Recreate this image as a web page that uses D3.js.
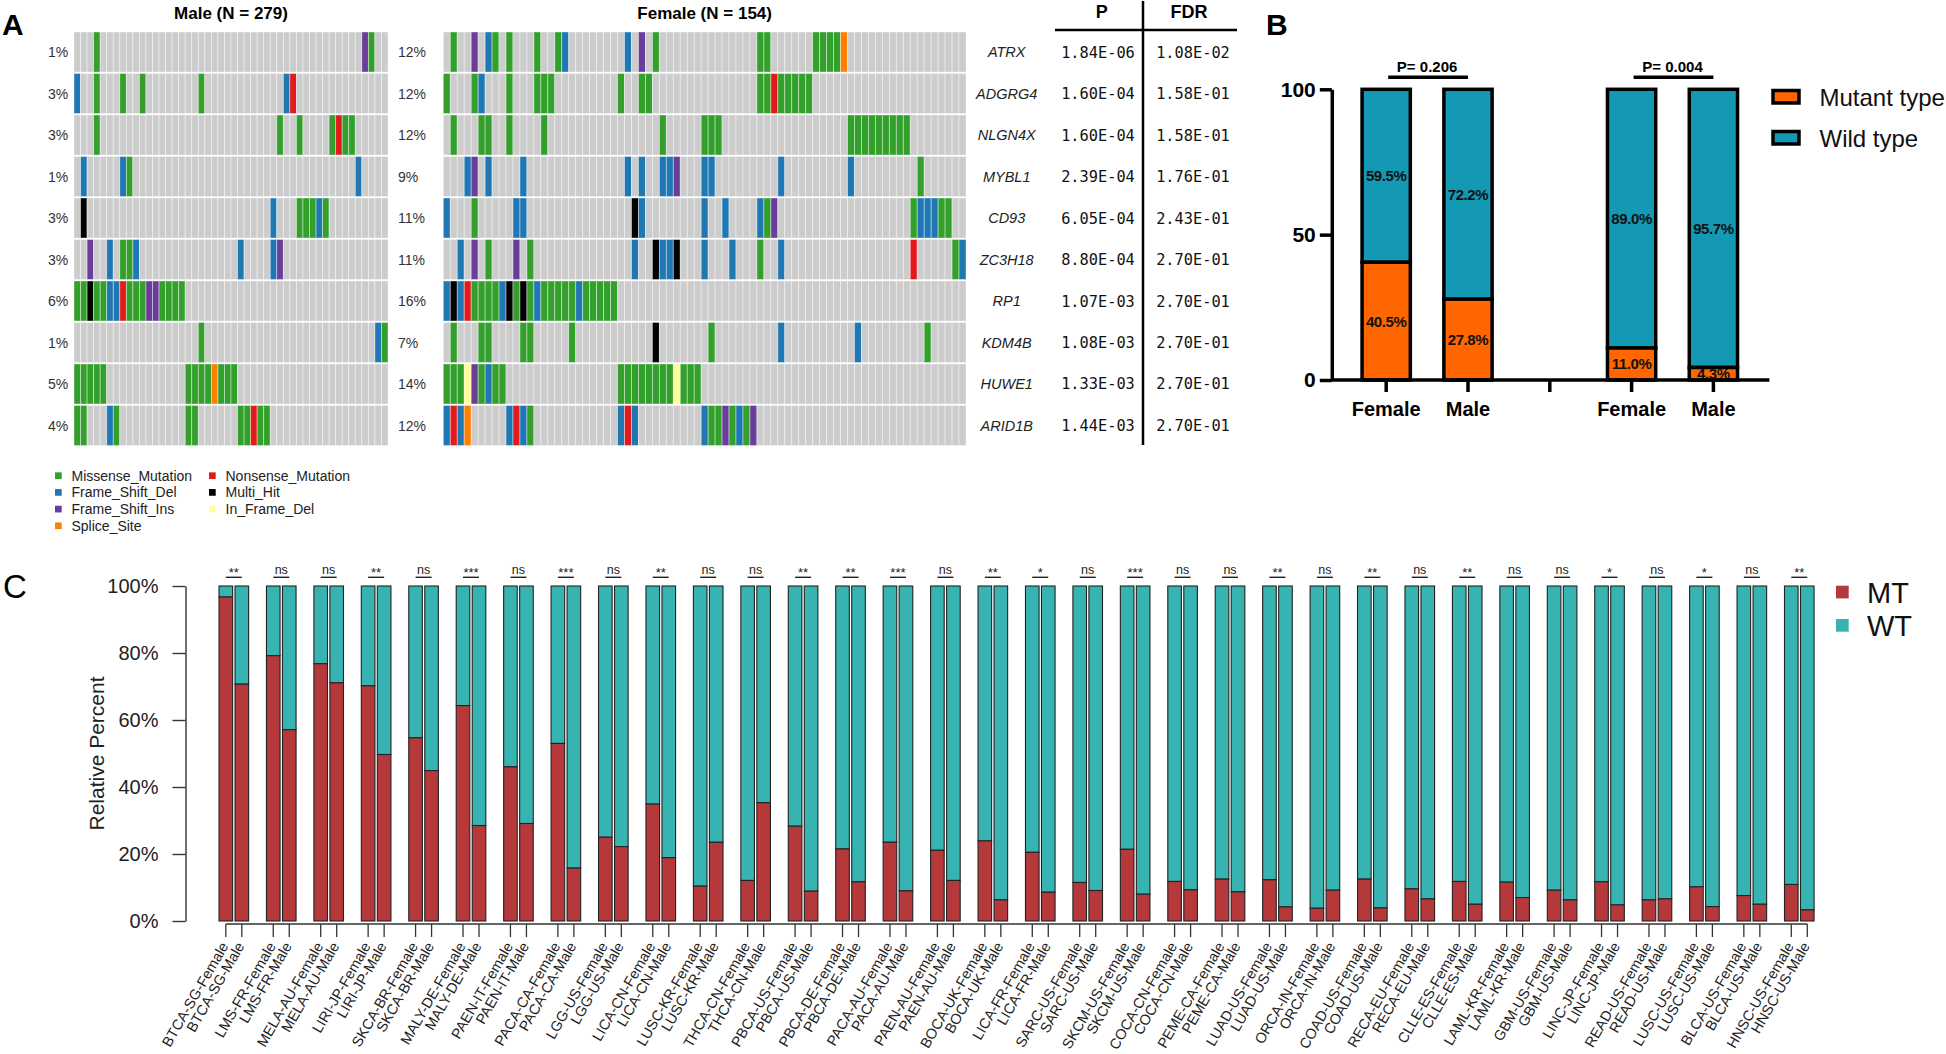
<!DOCTYPE html>
<html><head><meta charset="utf-8">
<script src="https://cdn.jsdelivr.net/npm/d3@7"></script>
<style>
body{margin:0;background:#fff}
svg{display:block}
</style>
</head><body>
<svg id="fig" width="1946" height="1054" font-family="'Liberation Sans',Arial,Helvetica,sans-serif"></svg>
<script>
// ---------------- DATA ----------------
// Panel A: oncoprint
const genes = ["ATRX","ADGRG4","NLGN4X","MYBL1","CD93","ZC3H18","RP1","KDM4B","HUWE1","ARID1B"];
const malePct = ["1%","3%","3%","1%","3%","3%","6%","1%","5%","4%"];
const femalePct = ["12%","12%","12%","9%","11%","11%","16%","7%","14%","12%"];
const pValues = ["1.84E-06","1.60E-04","1.60E-04","2.39E-04","6.05E-04","8.80E-04","1.07E-03","1.08E-03","1.33E-03","1.44E-03"];
const fdrValues = ["1.08E-02","1.58E-01","1.58E-01","1.76E-01","2.43E-01","2.70E-01","2.70E-01","2.70E-01","2.70E-01","2.70E-01"];
const maleTitle = "Male (N = 279)";
const femaleTitle = "Female (N = 154)";
const maleColumns = 48;
const femaleColumns = 75;
// mutation codes: M Missense, D Frame_Shift_Del, I Frame_Shift_Ins, S Splice_Site, N Nonsense, H Multi_Hit, F In_Frame_Del
const maleMutations = [
  [[3,"M"],[44,"I"],[45,"M"]],
  [[0,"D"],[3,"M"],[7,"M"],[10,"M"],[19,"M"],[32,"D"],[33,"N"]],
  [[3,"M"],[31,"M"],[34,"M"],[39,"M"],[40,"N"],[41,"M"],[42,"M"]],
  [[1,"D"],[7,"D"],[8,"M"],[43,"D"]],
  [[1,"H"],[30,"D"],[34,"M"],[35,"M"],[36,"M"],[37,"D"],[38,"M"]],
  [[2,"I"],[5,"D"],[7,"M"],[8,"M"],[9,"D"],[25,"D"],[30,"D"],[31,"I"]],
  [[0,"M"],[1,"M"],[2,"H"],[3,"M"],[4,"M"],[5,"D"],[6,"D"],[7,"N"],[8,"M"],[9,"M"],[10,"M"],[11,"I"],[12,"I"],[13,"M"],[14,"M"],[15,"M"],[16,"M"]],
  [[19,"M"],[46,"D"],[47,"M"]],
  [[0,"M"],[1,"M"],[2,"M"],[3,"M"],[4,"M"],[17,"M"],[18,"M"],[19,"M"],[20,"M"],[21,"S"],[22,"M"],[23,"M"],[24,"M"]],
  [[0,"M"],[1,"M"],[5,"D"],[6,"M"],[17,"M"],[18,"M"],[25,"M"],[26,"M"],[27,"N"],[28,"M"],[29,"M"]]
];
const femaleMutations = [
  [[1,"M"],[4,"I"],[6,"D"],[7,"M"],[9,"M"],[13,"M"],[16,"M"],[17,"D"],[26,"D"],[28,"I"],[30,"M"],[45,"M"],[46,"M"],[53,"M"],[54,"M"],[55,"M"],[56,"M"],[57,"S"]],
  [[0,"M"],[4,"M"],[5,"D"],[9,"M"],[13,"M"],[14,"M"],[15,"M"],[25,"M"],[28,"M"],[29,"M"],[45,"M"],[46,"M"],[47,"N"],[48,"M"],[49,"M"],[50,"M"],[51,"M"],[52,"M"]],
  [[1,"M"],[5,"M"],[6,"M"],[9,"M"],[14,"M"],[31,"M"],[37,"M"],[38,"M"],[39,"M"],[58,"M"],[59,"M"],[60,"M"],[61,"M"],[62,"M"],[63,"M"],[64,"M"],[65,"M"],[66,"M"]],
  [[3,"D"],[4,"I"],[6,"D"],[11,"D"],[26,"D"],[28,"D"],[31,"D"],[32,"D"],[33,"I"],[37,"D"],[38,"D"],[48,"D"],[58,"D"],[68,"M"]],
  [[0,"D"],[4,"M"],[10,"D"],[11,"D"],[27,"H"],[28,"D"],[37,"D"],[40,"D"],[45,"D"],[46,"M"],[47,"I"],[67,"M"],[68,"D"],[69,"D"],[70,"D"],[71,"M"],[72,"M"]],
  [[2,"D"],[4,"I"],[6,"M"],[10,"I"],[12,"M"],[27,"D"],[30,"H"],[31,"D"],[32,"D"],[33,"H"],[37,"D"],[41,"D"],[45,"M"],[48,"D"],[67,"N"],[73,"M"],[74,"D"]],
  [[0,"D"],[1,"H"],[2,"D"],[3,"N"],[4,"M"],[5,"M"],[6,"M"],[7,"M"],[8,"D"],[9,"H"],[10,"M"],[11,"H"],[12,"M"],[13,"D"],[14,"M"],[15,"M"],[16,"M"],[17,"M"],[18,"M"],[19,"D"],[20,"M"],[21,"M"],[22,"M"],[23,"M"],[24,"M"]],
  [[1,"M"],[5,"M"],[6,"M"],[11,"M"],[12,"M"],[18,"M"],[30,"H"],[38,"M"],[48,"D"],[59,"D"],[69,"M"]],
  [[0,"M"],[1,"M"],[2,"M"],[3,"F"],[4,"I"],[5,"M"],[6,"D"],[7,"M"],[8,"M"],[25,"M"],[26,"M"],[27,"M"],[28,"M"],[29,"M"],[30,"M"],[31,"M"],[32,"M"],[33,"F"],[34,"M"],[35,"M"],[36,"M"]],
  [[0,"D"],[1,"N"],[2,"D"],[3,"S"],[9,"D"],[10,"N"],[11,"D"],[12,"M"],[25,"D"],[26,"N"],[27,"D"],[37,"D"],[38,"M"],[39,"M"],[40,"I"],[41,"M"],[42,"D"],[43,"M"],[44,"I"]]
];
const mutCodes = ["M","D","I","S","N","H","F"];
const mutNames = ["Missense_Mutation","Frame_Shift_Del","Frame_Shift_Ins","Splice_Site","Nonsense_Mutation","Multi_Hit","In_Frame_Del"];
const mutColors = ["#33A02C","#1F78B4","#6A3D9A","#FF7F00","#E31A1C","#000000","#FFFF99"];

// Panel B
const bKeys = ["g1F","g1M","gap","g2F","g2M"];
const bLabels = ["Female","Male","","Female","Male"];
const bMutant = [40.5, 27.8, null, 11.0, 4.3];
const bWild = [59.5, 72.2, null, 89.0, 95.7];
const bPLabels = ["P= 0.206","P= 0.004"];
const bLegend = ["Mutant type","Wild type"];

// Panel C
const cohorts = ["BTCA-SG","LMS-FR","MELA-AU","LIRI-JP","SKCA-BR","MALY-DE","PAEN-IT","PACA-CA","LGG-US","LICA-CN","LUSC-KR","THCA-CN","PBCA-US","PBCA-DE","PACA-AU","PAEN-AU","BOCA-UK","LICA-FR","SARC-US","SKCM-US","COCA-CN","PEME-CA","LUAD-US","ORCA-IN","COAD-US","RECA-EU","CLLE-ES","LAML-KR","GBM-US","LINC-JP","READ-US","LUSC-US","BLCA-US","HNSC-US"];
const mtFemale = [96.7,79.2,76.8,70.2,54.7,64.3,46.0,53.0,25.0,34.9,10.4,12.1,28.3,21.5,23.5,21.1,23.9,20.5,11.5,21.4,11.8,12.5,12.3,3.8,12.5,9.6,11.8,11.6,9.2,11.7,6.3,10.2,7.6,10.9];
const mtMale = [70.7,57.1,71.1,49.7,44.9,28.5,29.1,15.8,22.2,18.9,23.5,35.3,8.9,11.7,9.0,12.1,6.3,8.6,9.1,8.0,9.3,8.7,4.2,9.2,3.9,6.6,5.0,7.0,6.3,4.8,6.6,4.3,5.0,3.3];
const signif = ["**","ns","ns","**","ns","***","ns","***","ns","**","ns","ns","**","**","***","ns","**","*","ns","***","ns","ns","**","ns","**","ns","**","ns","ns","*","ns","*","ns","**"];
const sexes = ["Female","Male"];
const cTicks = [0,20,40,60,80,100];
const cLegend = ["MT","WT"];

// ---------------- DRAW ----------------
const SANS = "'Liberation Sans',Arial,Helvetica,sans-serif";
const MONO = "'DejaVu Sans Mono','Liberation Mono',monospace";
const svg = d3.select("#fig");
svg.append("rect").attr("width",1946).attr("height",1054).attr("fill","#fff");

// panel letters
svg.append("text").attr("x",2).attr("y",35).attr("font-size",30).attr("font-weight","bold").text("A");
svg.append("text").attr("x",1266).attr("y",35).attr("font-size",30).attr("font-weight","bold").text("B");
svg.append("text").attr("x",3).attr("y",598).attr("font-size",33).text("C");

// ===== Panel A =====
const typeColor = new Map(mutCodes.map((c,i)=>[c, mutColors[i]]));
const yA = d3.scaleBand().domain(genes).range([32, 445.5]).paddingInner(0.035);
const xMale = d3.scaleBand().domain(d3.range(maleColumns)).range([74, 388]);
const xFemale = d3.scaleBand().domain(d3.range(femaleColumns)).range([443.3, 966]);

function drawOnco(xs, muts) {
  const g = svg.append("g");
  genes.forEach((gene, r) => {
    const lookup = new Map(muts[r]);
    g.selectAll(null).data(xs.domain()).join("rect")
      .attr("x", c => xs(c)).attr("y", yA(gene))
      .attr("width", xs.bandwidth()).attr("height", yA.bandwidth())
      .attr("fill", c => lookup.has(c) ? typeColor.get(lookup.get(c)) : "#CCCCCC")
      .attr("stroke", "#ffffff").attr("stroke-width", 0.8).attr("stroke-opacity", 0.5);
  });
}
drawOnco(xMale, maleMutations);
drawOnco(xFemale, femaleMutations);

svg.append("text").attr("x", (xMale.range()[0]+xMale.range()[1])/2).attr("y",18.5)
  .attr("text-anchor","middle").attr("font-size",17).attr("font-weight","bold").text(maleTitle);
svg.append("text").attr("x", (xFemale.range()[0]+xFemale.range()[1])/2).attr("y",18.5)
  .attr("text-anchor","middle").attr("font-size",17).attr("font-weight","bold").text(femaleTitle);

svg.append("g").selectAll("text").data(genes).join("text")
  .attr("x", 48).attr("y", d => yA(d)+yA.bandwidth()/2).attr("dy","0.36em")
  .attr("font-size",14).attr("fill","#333").text((d,i)=>malePct[i]);
svg.append("g").selectAll("text").data(genes).join("text")
  .attr("x", 398).attr("y", d => yA(d)+yA.bandwidth()/2).attr("dy","0.36em")
  .attr("font-size",14).attr("fill","#333").text((d,i)=>femalePct[i]);

// gene names and table
svg.append("g").selectAll("text").data(genes).join("text")
  .attr("x", 1006.7).attr("y", d => yA(d)+yA.bandwidth()/2).attr("dy","0.36em")
  .attr("text-anchor","middle").attr("font-size",14.5).attr("font-style","italic").attr("fill","#222").text(d=>d);
svg.append("g").selectAll("text").data(genes).join("text")
  .attr("x", 1098).attr("y", d => yA(d)+yA.bandwidth()/2).attr("dy","0.36em")
  .attr("text-anchor","middle").attr("font-size",15.3).attr("font-family",MONO).attr("fill","#111").text((d,i)=>pValues[i]);
svg.append("g").selectAll("text").data(genes).join("text")
  .attr("x", 1193).attr("y", d => yA(d)+yA.bandwidth()/2).attr("dy","0.36em")
  .attr("text-anchor","middle").attr("font-size",15.3).attr("font-family",MONO).attr("fill","#111").text((d,i)=>fdrValues[i]);
svg.append("text").attr("x",1101.7).attr("y",18).attr("text-anchor","middle").attr("font-size",18).attr("font-weight","bold").text("P");
svg.append("text").attr("x",1189).attr("y",18).attr("text-anchor","middle").attr("font-size",18).attr("font-weight","bold").text("FDR");
svg.append("line").attr("x1",1055).attr("x2",1237).attr("y1",30).attr("y2",30).attr("stroke","#000").attr("stroke-width",2.5);
svg.append("line").attr("x1",1143).attr("x2",1143).attr("y1",1).attr("y2",445).attr("stroke","#000").attr("stroke-width",2.5);

// legend A
const legA = svg.append("g");
mutNames.forEach((name,i) => {
  const col = i < 4 ? 0 : 1, row = i < 4 ? i : i-4;
  const x0 = col === 0 ? 55 : 209;
  const yc = 475.7 + row*16.7;
  legA.append("rect").attr("x",x0).attr("y",yc-3.35).attr("width",6.7).attr("height",6.7).attr("fill",mutColors[i]);
  legA.append("text").attr("x",x0+16.5).attr("y",yc).attr("dy","0.36em").attr("font-size",14).attr("fill","#222").text(name);
});

// ===== Panel B =====
const orange = "#FF6600", teal = "#1399B3";
const yB = d3.scaleLinear().domain([0,100]).range([380, 89.3]);
const xB = d3.scaleBand().domain(bKeys).range([1345.3, 1754.3]).paddingInner(0.41).paddingOuter(0.205);
const gB = svg.append("g");
bKeys.forEach((k,i) => {
  if (bMutant[i] === null) return;
  gB.append("rect").attr("x",xB(k)).attr("width",xB.bandwidth())
    .attr("y",yB(100)).attr("height",yB(bMutant[i]) - yB(100))
    .attr("fill",teal).attr("stroke","#000").attr("stroke-width",3.5);
  gB.append("rect").attr("x",xB(k)).attr("width",xB.bandwidth())
    .attr("y",yB(bMutant[i])).attr("height",yB(0)-yB(bMutant[i]))
    .attr("fill",orange).attr("stroke","#000").attr("stroke-width",3.5);
  const cx = xB(k)+xB.bandwidth()/2;
  gB.append("text").attr("x",cx).attr("y",(yB(100)+yB(bMutant[i]))/2).attr("dy","0.36em")
    .attr("text-anchor","middle").attr("font-size",15).attr("font-weight","bold").attr("letter-spacing",-0.4).attr("fill","#111")
    .text(bWild[i].toFixed(1)+"%");
  gB.append("text").attr("x",cx).attr("y",(yB(0)+yB(bMutant[i]))/2).attr("dy","0.36em")
    .attr("text-anchor","middle").attr("font-size",15).attr("font-weight","bold").attr("letter-spacing",-0.4).attr("fill","#111")
    .text(bMutant[i].toFixed(1)+"%");
});
const yAxisB = gB.append("g").attr("transform","translate(1331.8,0)")
  .call(d3.axisLeft(yB).tickValues([0,50,100]).tickSize(12).tickSizeOuter(0).tickPadding(4));
yAxisB.selectAll("path,line").attr("stroke","#000").attr("stroke-width",3.5);
yAxisB.selectAll("text").attr("font-size",21).attr("font-weight","bold").attr("fill","#000").attr("font-family",SANS);
const xAxisB = gB.append("g").attr("transform","translate(0,380)")
  .call(d3.axisBottom(xB).tickSize(12).tickSizeOuter(0).tickPadding(10).tickFormat(k=>bLabels[bKeys.indexOf(k)]));
xAxisB.select(".domain").remove();
xAxisB.selectAll("line").attr("stroke","#000").attr("stroke-width",3.5);
xAxisB.selectAll("text").attr("font-size",20).attr("font-weight","bold").attr("fill","#000").attr("font-family",SANS);
gB.append("line").attr("x1",1331.8).attr("x2",1769.4).attr("y1",380).attr("y2",380).attr("stroke","#000").attr("stroke-width",3.5);
[["g1F","g1M"],["g2F","g2M"]].forEach((pair,j) => {
  const x1 = xB(pair[0])+xB.bandwidth()/2, x2 = xB(pair[1])+xB.bandwidth()/2;
  gB.append("line").attr("x1",x1+2).attr("x2",x2).attr("y1",77.3).attr("y2",77.3).attr("stroke","#000").attr("stroke-width",3.5);
  gB.append("text").attr("x",(x1+x2)/2).attr("y",72).attr("text-anchor","middle")
    .attr("font-size",15).attr("font-weight","bold").text(bPLabels[j]);
});
[orange, teal].forEach((c,i) => {
  gB.append("rect").attr("x",1773).attr("y",90.5+i*41).attr("width",26).attr("height",12.5)
    .attr("fill",c).attr("stroke","#000").attr("stroke-width",3.5);
  gB.append("text").attr("x",1819.5).attr("y",106+i*41).attr("font-size",24).attr("fill","#111").text(bLegend[i]);
});

// ===== Panel C =====
const red = "#B5383B", cteal = "#37B4B2";
const yC = d3.scaleLinear().domain([0,100]).range([921, 586]);
const xG = d3.scaleBand().domain(cohorts).range([210.1, 1823.0]);
const xS = d3.scaleBand().domain(sexes).range([8.92, 8.92+29.6]).paddingInner(0.15);
const gC = svg.append("g");
const barX = (i,s) => xG(cohorts[i]) + xS(s);
const centerX = (i,s) => barX(i,s) + xS.bandwidth()/2;

cohorts.forEach((co,i) => {
  sexes.forEach((s,j) => {
    const mt = j === 0 ? mtFemale[i] : mtMale[i];
    gC.append("rect").attr("x",barX(i,s)).attr("width",xS.bandwidth())
      .attr("y",yC(100)).attr("height",yC(mt)-yC(100))
      .attr("fill",cteal).attr("stroke","#222").attr("stroke-width",1.1);
    gC.append("rect").attr("x",barX(i,s)).attr("width",xS.bandwidth())
      .attr("y",yC(mt)).attr("height",yC(0)-yC(mt))
      .attr("fill",red).attr("stroke","#222").attr("stroke-width",1.1);
    const cx = centerX(i,s);
    gC.append("line").attr("x1",cx).attr("x2",cx).attr("y1",924).attr("y2",937).attr("stroke","#333").attr("stroke-width",1.3);
    gC.append("text").attr("transform",`translate(${cx+3},946) rotate(-60)`)
      .attr("text-anchor","end").attr("font-size",14.5).attr("fill","#222").text(`${co}-${s}`);
  });
  const c1 = centerX(i,"Female"), c2 = centerX(i,"Male");
  gC.append("line").attr("x1",c1).attr("x2",c2).attr("y1",577.3).attr("y2",577.3).attr("stroke","#222").attr("stroke-width",1.4);
  gC.append("text").attr("x",(c1+c2)/2).attr("y",signif[i]==="ns"?573.5:577).attr("text-anchor","middle")
    .attr("font-size",signif[i]==="ns"?12.5:13).attr("fill","#222").text(signif[i]);
});
gC.append("line").attr("x1",centerX(0,"Female")).attr("x2",centerX(cohorts.length-1,"Male"))
  .attr("y1",924).attr("y2",924).attr("stroke","#333").attr("stroke-width",1.3);
const yAxisC = gC.append("g").attr("transform","translate(185.5,0)")
  .call(d3.axisLeft(yC).tickValues(cTicks).tickFormat(d=>d+"%").tickSize(13).tickSizeOuter(0).tickPadding(14));
yAxisC.selectAll("path,line").attr("stroke","#333").attr("stroke-width",1.4);
yAxisC.selectAll("text").attr("font-size",20).attr("fill","#222").attr("font-family",SANS);
gC.append("text").attr("transform","translate(96,753.5) rotate(-90)").attr("text-anchor","middle").attr("dy","0.36em")
  .attr("font-size",21).attr("fill","#222").text("Relative Percent");
[red, cteal].forEach((c,i) => {
  gC.append("rect").attr("x",1836).attr("y",585.7+i*33.3).attr("width",12.7).attr("height",12.7).attr("fill",c);
  gC.append("text").attr("x",1867).attr("y",602.7+i*33.3).attr("font-size",29).attr("fill","#111").text(cLegend[i]);
});
</script>
</body></html>
